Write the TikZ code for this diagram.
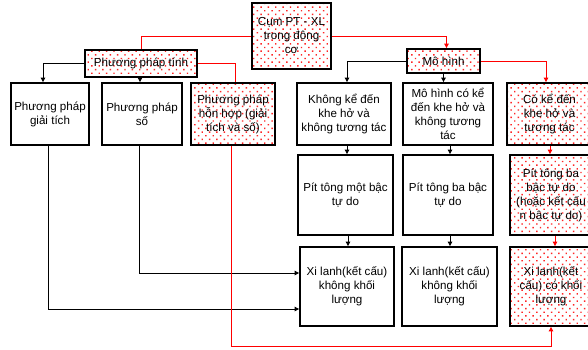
\documentclass[tikz,border=0pt]{standalone}
\usepackage{fontspec}
\setmainfont{Liberation Sans}
\usetikzlibrary{arrows.meta,patterns.meta}

\tikzset{
  box/.style={draw, line width=1.8pt, align=center, inner sep=0pt,
    font=\fontsize{11.6}{14}\selectfont},
  dotted box/.style={box, pattern={Dots[distance=5.2pt, angle=45, radius=1pt]},
    pattern color=red!85},
  link/.style={line width=0.9pt, black},
  redlink/.style={line width=0.9pt, red},
  tip/.style={-{Triangle[width=4.5pt,length=4.5pt]}}
}

\begin{document}
\begin{tikzpicture}[x=1pt, y=-1pt]
  \fill[white] (0,0) rectangle (588,349);
  \useasboundingbox (0,0) rectangle (588,349);
  \clip (0,0) rectangle (588,349);

  % root and the two branches
  \node[dotted box, minimum width=79pt, minimum height=66pt] (root) at (291.5,36)
    {Cụm PT - XL\\trong động\\cơ};
  \node[dotted box, minimum width=112pt, minimum height=27pt] (ppt) at (141,63.5)
    {Phương pháp tính};
  \node[dotted box, minimum width=73pt, minimum height=24pt] (mh) at (443.5,61)
    {Mô hình};

  % methods
  \node[box, minimum width=78pt, minimum height=62pt] (gt) at (50,114)
    {Phương pháp\\giải tích};
  \node[box, minimum width=80pt, minimum height=62pt] (so) at (142,114)
    {Phương pháp\\số};
  \node[dotted box, minimum width=84pt, minimum height=62pt] (hh) at (233,114)
    {Phương pháp\\hỗn hợp (giải\\tích và số)};

  % models
  \node[box, minimum width=94pt, minimum height=62pt] (k1) at (344,114)
    {Không kể đến\\khe hở và\\không tương tác};
  \node[box, minimum width=90pt, minimum height=62pt] (k2) at (448,114)
    {Mô hình có kể\\đến khe hở và\\không tương\\tác};
  \node[dotted box, minimum width=85pt, minimum height=62pt] (k3) at (549.5,114)
    {Có kể đến\\khe hở và\\tương tác};

  % pistons
  \node[box, minimum width=95pt, minimum height=80pt] (p1) at (345.5,195)
    {Pít tông một bậc\\tự do};
  \node[box, minimum width=90pt, minimum height=80pt] (p2) at (448,195)
    {Pít tông ba bậc\\tự do};
  \node[dotted box, minimum width=82pt, minimum height=80pt] (p3) at (551,195)
    {Pít tông ba\\bậc tự do\\(hoặc kết cấu\\n bậc tự do)};

  % cylinders
  \node[box, minimum width=94pt, minimum height=79pt] (x1) at (347,286.5)
    {Xi lanh(kết cấu)\\không khối\\lượng};
  \node[box, minimum width=95pt, minimum height=79pt] (x2) at (449.5,286.5)
    {Xi lanh(kết cấu)\\không khối\\lượng};
  \node[dotted box, minimum width=82pt, minimum height=79pt] (x3) at (551,286.5)
    {Xi lanh(kết\\cấu) có khối\\lượng};

  % root connectors
  \draw[redlink] (root.west) -| (ppt.north);
  \draw[redlink, tip] (root.east) -| ([xshift=3pt]mh.north);

  % method connectors
  \draw[link, tip] (ppt.west) -| ([xshift=-7pt]gt.north);
  \draw[link, tip] ([xshift=-1pt]ppt.south) -- ([xshift=-1pt]ppt.south |- so.north);
  \draw[redlink] (ppt.east) -| ([xshift=2pt]hh.north);

  % model connectors
  \draw[link, tip] (mh.west) -| ([xshift=3pt]k1.north);
  \draw[link, tip] (mh.south) -- (mh.south |- k2.north);
  \draw[redlink, tip] (mh.east) -| ([xshift=-3.5pt]k3.north);

  \draw[link, tip] ([xshift=3pt]k1.south) -- ([xshift=3pt]k1.south |- p1.north);
  \draw[link, tip] ([xshift=2pt]k2.south) -- ([xshift=2pt]k2.south |- p2.north);
  \draw[redlink, tip] ([xshift=0.5pt]k3.south) -- ([xshift=0.5pt]k3.south |- p3.north);

  \draw[link, tip] ([xshift=2.5pt]p1.south) -- ([xshift=2.5pt]p1.south |- x1.north);
  \draw[link, tip] ([xshift=2pt]p2.south) -- ([xshift=2pt]p2.south |- x2.north);
  \draw[redlink, tip] ([xshift=4pt]p3.south) -- ([xshift=4pt]p3.south |- x3.north);

  % long connectors into the cylinder boxes
  \draw[link, tip] ([xshift=-2pt]gt.south) |- ([yshift=-22.5pt]x1.west);
  \draw[link, tip] ([xshift=-3pt]so.south) |- ([yshift=13.5pt]x1.west);
  \coordinate (bend) at (0,346);
  \draw[redlink, tip] ([xshift=-2pt]hh.south) -- ([xshift=-2pt]hh.south |- bend)
    -| (x3.south);
\end{tikzpicture}
\end{document}
